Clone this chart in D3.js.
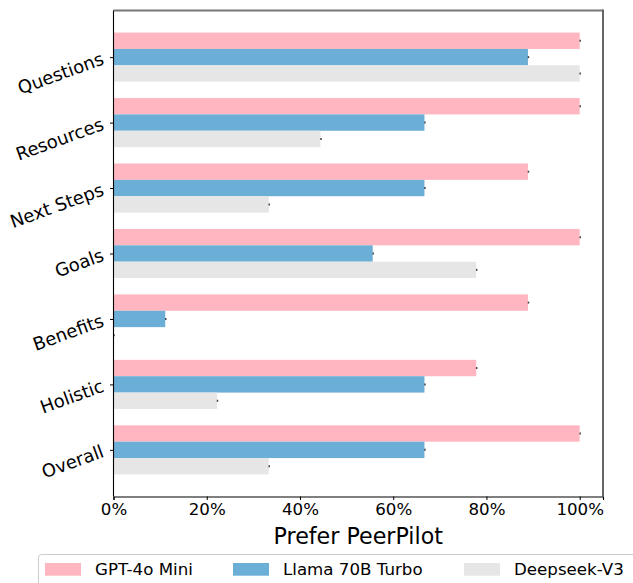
<!DOCTYPE html>
<html>
<head>
<meta charset="utf-8">
<script src="https://cdn.jsdelivr.net/npm/d3@7"></script>
<style>
  html, body { margin: 0; padding: 0; background: #fff; }
  svg { display: block; font-family: "DejaVu Sans", sans-serif; }
</style>
</head>
<body>
<svg id="chart" width="633" height="583"></svg>
<script>
// ---- data ----
const categories = ["Questions", "Resources", "Next Steps", "Goals", "Benefits", "Holistic", "Overall"];
const seriesNames = ["GPT-4o Mini", "Llama 70B Turbo", "Deepseek-V3"];
const gptValues = [1.0, 1.0, 0.889, 1.0, 0.889, 0.778, 1.0];
const llamaValues = [0.889, 0.667, 0.667, 0.556, 0.111, 0.667, 0.667];
const deepseekValues = [1.0, 0.444, 0.333, 0.778, 0.0, 0.222, 0.333];
const xTicks = [0, 0.2, 0.4, 0.6, 0.8, 1.0];
const colors = ["#FFB6C1", "#6BAED6", "#E6E6E6"];

const series = [gptValues, llamaValues, deepseekValues];

const svg = d3.select("#chart");
const pLeft = 113.5, pRight = 603, pTop = 10.5, pBottom = 496.5;

const x = d3.scaleLinear().domain([0, 1.05]).range([pLeft, pRight]);
const y = d3.scaleLinear().domain([-0.7125, categories.length - 1 + 0.7125]).range([pTop, pBottom]);
const barH = 0.25;
const barPx = y(barH) - y(0);

// bars
series.forEach((vals, si) => {
  const off = (si - 1) * barH;
  const g = svg.append("g");
  g.selectAll("rect").data(vals).join("rect")
    .attr("x", x(0))
    .attr("y", (d, i) => y(i + off) - barPx / 2)
    .attr("width", d => x(d) - x(0))
    .attr("height", barPx)
    .attr("fill", colors[si]);
  // tiny error bar caps
  g.selectAll("line").data(vals).join("line")
    .attr("x1", d => x(d) + 0.5)
    .attr("x2", d => x(d) + 0.5)
    .attr("y1", (d, i) => y(i + off) - 1)
    .attr("y2", (d, i) => y(i + off) + 1)
    .attr("stroke", "#444")
    .attr("stroke-width", 1.5);
});

// spines
svg.append("line").attr("x1", pLeft).attr("x2", pRight).attr("y1", pTop).attr("y2", pTop)
  .attr("stroke", "#777").attr("stroke-width", 2);
svg.append("line").attr("x1", pRight).attr("x2", pRight).attr("y1", pTop - 1).attr("y2", pBottom)
  .attr("stroke", "#666").attr("stroke-width", 2);

// x axis
const xAxis = d3.axisBottom(x).tickValues(xTicks).tickFormat(d3.format(".0%")).tickSize(3.5).tickPadding(3.5);
const gx = svg.append("g").attr("transform", `translate(0,${pBottom})`).call(xAxis);
gx.select(".domain").attr("stroke", "#000").attr("stroke-width", 1.1);
gx.selectAll(".tick line").attr("stroke", "#000").attr("stroke-width", 1);
gx.selectAll(".tick text").attr("font-size", 16.67).attr("font-family", "DejaVu Sans").attr("fill", "#000");

// y axis
const yAxis = d3.axisLeft(y).tickValues(d3.range(categories.length)).tickFormat(i => categories[i]).tickSize(3.5).tickPadding(3.5);
const gy = svg.append("g").attr("transform", `translate(${pLeft},0)`).call(yAxis);
gy.select(".domain").attr("stroke", "#000").attr("stroke-width", 1.1).attr("d", `M0,${pTop}V${pBottom}`);
gy.selectAll(".tick line").attr("stroke", "#000").attr("stroke-width", 1);
gy.selectAll(".tick text")
  .attr("font-size", 18).attr("font-family", "DejaVu Sans").attr("fill", "#000")
  .attr("x", -10).attr("dy", null)
  .attr("dominant-baseline", "central")
  .attr("text-anchor", "end")
  .attr("transform", "rotate(-20,-10,2)");

// x label
svg.append("text").attr("x", (pLeft + pRight) / 2).attr("y", 544)
  .attr("text-anchor", "middle").attr("font-size", 22.2).attr("fill", "#000")
  .text("Prefer PeerPilot");

// legend
const lg = svg.append("g");
lg.append("rect").attr("x", 38.5).attr("y", 554.5).attr("width", 620).attr("height", 60)
  .attr("rx", 3).attr("fill", "#fff").attr("stroke", "#ccc").attr("stroke-width", 1);
const legX = [45, 233, 464];
seriesNames.forEach((name, i) => {
  lg.append("rect").attr("x", legX[i]).attr("y", 563).attr("width", 36).attr("height", 12.7).attr("fill", colors[i]);
  lg.append("text").attr("x", legX[i] + 50).attr("y", 575).attr("font-size", 16.67).attr("fill", "#000").text(name);
});
</script>
</body>
</html>
